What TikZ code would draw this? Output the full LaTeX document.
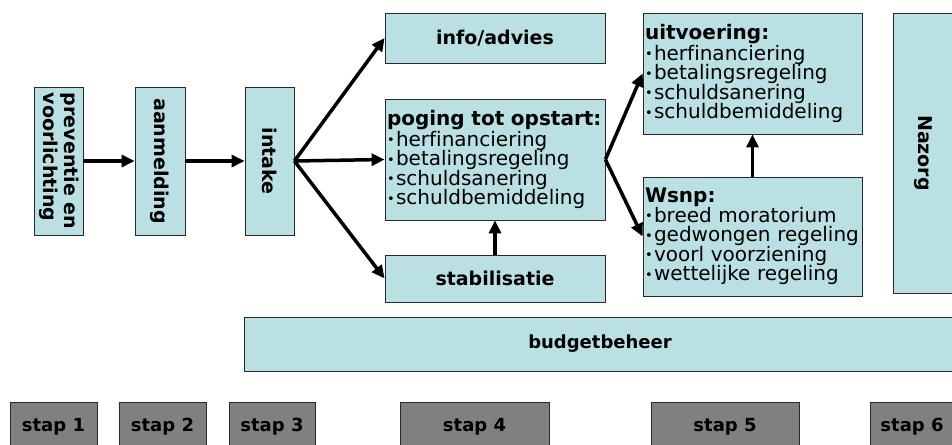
\documentclass[tikz,border=0pt]{standalone}
\usepackage{fontspec}
\setmainfont[Ligatures=NoCommon]{DejaVu Sans}
\definecolor{boxcyan}{RGB}{187, 224, 227}
\definecolor{stapgray}{RGB}{128, 128, 128}
\definecolor{edgegray}{RGB}{40, 40, 40}
\usepackage{tikz}
\usetikzlibrary{arrows.meta}
\newcommand{\bul}{\makebox[9pt][l]{\raisebox{1.5pt}{\fontsize{13}{13}\selectfont\textbullet}}}

\begin{document}
\begin{tikzpicture}[x=1pt, y=-1pt,
  blok/.style={draw=edgegray, fill=boxcyan, line width=0.8pt, inner sep=0pt, font=\fontsize{19}{19}\selectfont\bfseries},
  lijst/.style={blok, font=\fontsize{20}{19.5}\selectfont, align=left, inner xsep=2pt},
  stapbox/.style={draw=edgegray, fill=stapgray, line width=0.8pt, inner sep=0pt, font=\fontsize{18}{18}\selectfont\bfseries},
  pijl/.style={line width=3.5pt, -{Triangle[length=13pt, width=12pt]}}]
  \useasboundingbox (0,0) rectangle (952,444);

  % linker kolom
  \node[blok, minimum width=49, minimum height=148] (preventie) at (58.5, 161) {%
    \rotatebox{-90}{\renewcommand{\arraystretch}{1.1}\begin{tabular}{@{}l@{}}preventie en\\voorlichting\end{tabular}}};
  \node[blok, minimum width=50, minimum height=148] (aanmelding) at (160, 161) {\rotatebox{-90}{aanmelding}};
  \node[blok, minimum width=49, minimum height=148] (intake) at (269.5, 161) {\rotatebox{-90}{intake}};

  % stap 4
  \node[blok, minimum width=220, minimum height=50] (info) at (495, 38) {info/advies};
  \node[lijst, text width=216, minimum height=121] (poging) at (495, 159.5) {
    \textbf{poging tot opstart:}\\
    \bul herfinanciering\\
    \bul betalingsregeling\\
    \bul schuldsanering\\
    \bul schuldbemiddeling};
  \node[blok, minimum width=220, minimum height=47] (stabil) at (495, 278.5) {stabilisatie};

  % stap 5
  \node[lijst, text width=215, minimum height=121] (uitvoering) at (752.5, 73.5) {
    \textbf{uitvoering:}\\
    \bul herfinanciering\\
    \bul betalingsregeling\\
    \bul schuldsanering\\
    \bul schuldbemiddeling};
  \node[lijst, text width=215, minimum height=119] (wsnp) at (752.5, 236.5) {
    \textbf{Wsnp:}\\
    \bul breed moratorium\\
    \bul gedwongen regeling\\
    \bul voorl voorziening\\
    \bul wettelijke regeling};

  % stap 6
  \node[blok, minimum width=60, minimum height=280] (nazorg) at (923, 153) {\rotatebox{-90}{Nazorg}};
  \node[blok, font=\fontsize{18}{18}\selectfont\bfseries, minimum width=712, minimum height=54] (budget) at (600, 344) {budgetbeheer};

  % stappen
  \node[stapbox, minimum width=87, minimum height=50] (stap1) at (53.5, 427) {stap 1};
  \node[stapbox, minimum width=87, minimum height=50] (stap2) at (162.5, 427) {stap 2};
  \node[stapbox, minimum width=86, minimum height=50] (stap3) at (272, 427) {stap 3};
  \node[stapbox, minimum width=149, minimum height=50] (stap4) at (474.5, 427) {stap 4};
  \node[stapbox, minimum width=148, minimum height=50] (stap5) at (725, 427) {stap 5};
  \node[stapbox, minimum width=84, minimum height=50] (stap6) at (912, 427) {stap 6};

  % pijlen
  \draw[pijl] (preventie.east) -- (aanmelding.west);
  \draw[pijl] (aanmelding.east) -- (intake.west);
  \draw[pijl] (intake.east) -- (info.west);
  \draw[pijl] (intake.east) -- (poging.west);
  \draw[pijl] (intake.east) -- (stabil.west);
  \draw[pijl] (stabil.north) -- (poging.south);
  \draw[pijl] (poging.east) -- (uitvoering.west);
  \draw[pijl] (poging.east) -- (wsnp.west);
  \draw[pijl] (wsnp.north) -- (uitvoering.south);
\end{tikzpicture}
\end{document}
